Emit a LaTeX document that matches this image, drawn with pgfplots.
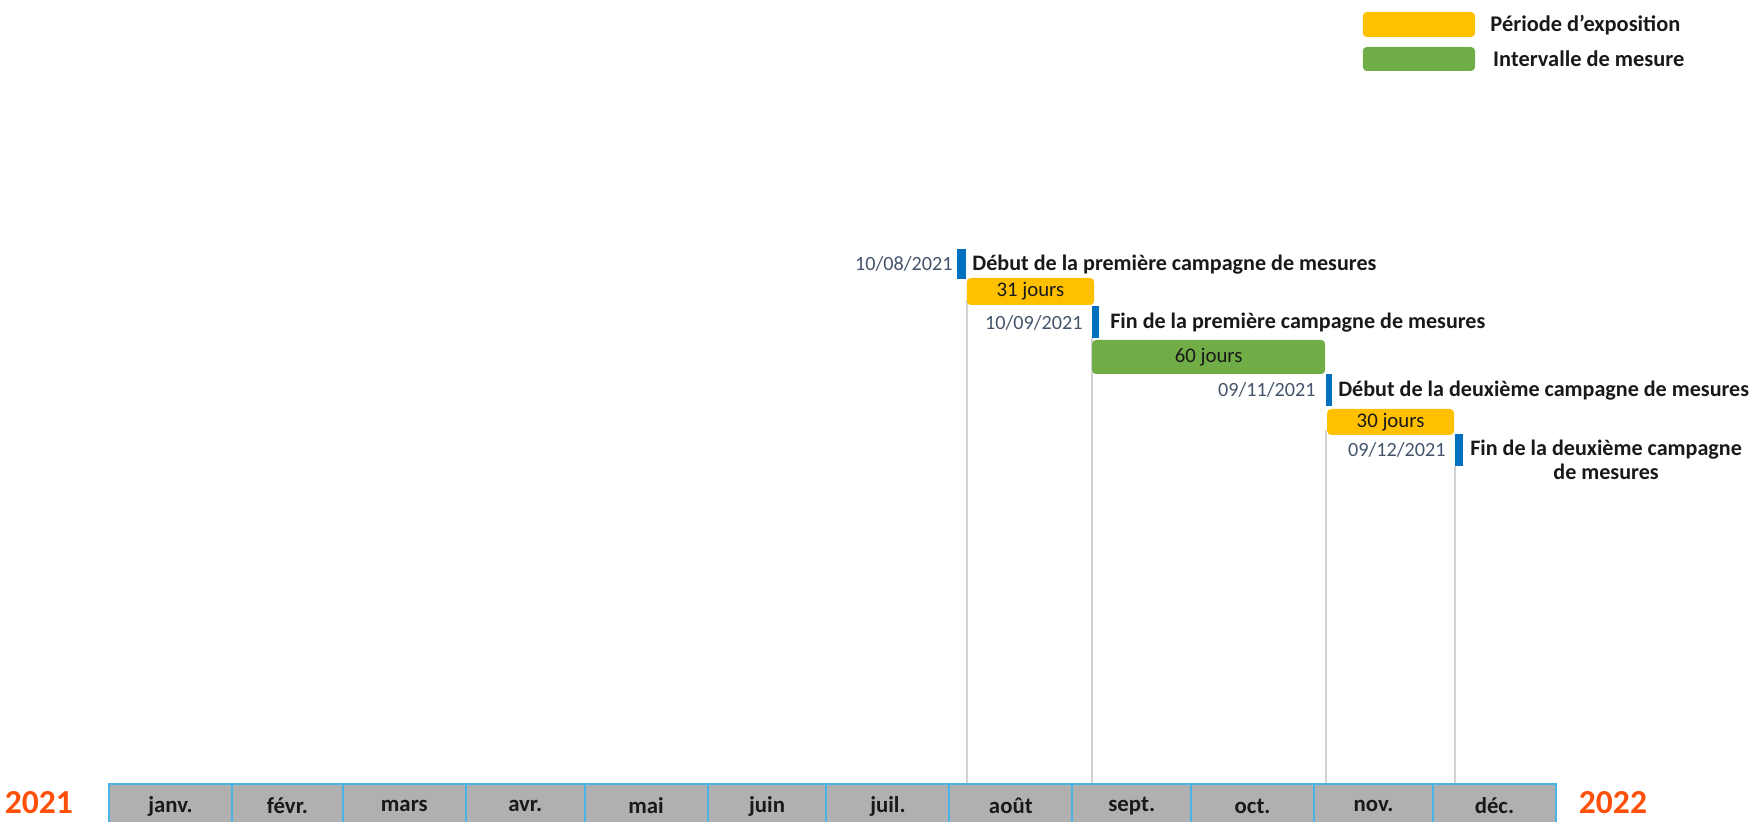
\documentclass[border=0pt]{standalone}
\usepackage{pgfplots}
\pgfplotsset{compat=1.18}
\usepackage{fontspec}
\setmainfont{Carlito}
\definecolor{expo}{RGB}{255,192,0}
\definecolor{mesure}{RGB}{112,173,71}
\definecolor{mblue}{RGB}{0,112,192}
\definecolor{datec}{RGB}{68,84,106}
\definecolor{yearc}{RGB}{255,80,10}
\definecolor{monthfill}{RGB}{176,176,176}
\definecolor{monthborder}{RGB}{75,180,230}
\definecolor{vline}{RGB}{210,210,210}
\definecolor{txt}{RGB}{25,25,25}
\newcommand{\lab}{\fontsize{11.05}{12}\selectfont\bfseries\color{txt}}
\newcommand{\leg}{\fontsize{11.2}{12}\selectfont\bfseries\color{txt}}
\newcommand{\dat}{\fontsize{10.1}{12}\selectfont\color{datec}}
\newcommand{\bart}{\fontsize{10.4}{12}\selectfont\color{txt}}
\newcommand{\mon}{\fontsize{11.4}{12}\selectfont\bfseries\color{txt}}
\begin{document}
\begin{tikzpicture}
\begin{axis}[name=ax,
  width=877.5pt, height=411pt, scale only axis,
  xmin=-27.497, xmax=415.24, ymin=0, ymax=822, y dir=reverse,
  hide axis, clip=false]
% vertical guide lines
\addplot[vline, line width=0.8pt] coordinates {(216.4,300) (216.4,784)};
\addplot[vline, line width=0.8pt] coordinates {(248.0,338) (248.0,784)};
\addplot[vline, line width=0.8pt] coordinates {(307.0,430) (307.0,784)};
\addplot[vline, line width=0.8pt] coordinates {(339.6,466) (339.6,784)};
% event markers
\addplot[fill=mblue, draw=none] coordinates {(213.9,249) (216.2,249) (216.2,279) (213.9,279)} -- cycle;
\addplot[fill=mblue, draw=none] coordinates {(248.0,306) (249.7,306) (249.7,338) (248.0,338)} -- cycle;
\addplot[fill=mblue, draw=none] coordinates {(307.0,374) (308.5,374) (308.5,406) (307.0,406)} -- cycle;
\addplot[fill=mblue, draw=none] coordinates {(339.6,434) (341.6,434) (341.6,466) (339.6,466)} -- cycle;
% periods
\addplot[fill=expo, draw=none, rounded corners=2pt] coordinates {(216.4,278) (248.5,278) (248.5,305) (216.4,305)} -- cycle;
\addplot[fill=mesure, draw=none, rounded corners=2pt] coordinates {(248.0,340) (306.8,340) (306.8,374) (248.0,374)} -- cycle;
\addplot[fill=expo, draw=none, rounded corners=2pt] coordinates {(307.3,409) (339.3,409) (339.3,435) (307.3,435)} -- cycle;
% legend
\addplot[fill=expo, draw=none, rounded corners=2pt] coordinates {(316.3,12) (344.6,12) (344.6,37) (316.3,37)} -- cycle;
\addplot[fill=mesure, draw=none, rounded corners=2pt] coordinates {(316.3,47) (344.6,47) (344.6,71) (316.3,71)} -- cycle;
% months
\addplot[fill=monthfill, draw=monthborder, line width=1pt] coordinates {(0,784) (31,784) (31,830) (0,830)} -- cycle;
\addplot[fill=monthfill, draw=monthborder, line width=1pt] coordinates {(31,784) (59,784) (59,830) (31,830)} -- cycle;
\addplot[fill=monthfill, draw=monthborder, line width=1pt] coordinates {(59,784) (90,784) (90,830) (59,830)} -- cycle;
\addplot[fill=monthfill, draw=monthborder, line width=1pt] coordinates {(90,784) (120,784) (120,830) (90,830)} -- cycle;
\addplot[fill=monthfill, draw=monthborder, line width=1pt] coordinates {(120,784) (151,784) (151,830) (120,830)} -- cycle;
\addplot[fill=monthfill, draw=monthborder, line width=1pt] coordinates {(151,784) (181,784) (181,830) (151,830)} -- cycle;
\addplot[fill=monthfill, draw=monthborder, line width=1pt] coordinates {(181,784) (212,784) (212,830) (181,830)} -- cycle;
\addplot[fill=monthfill, draw=monthborder, line width=1pt] coordinates {(212,784) (243,784) (243,830) (212,830)} -- cycle;
\addplot[fill=monthfill, draw=monthborder, line width=1pt] coordinates {(243,784) (273,784) (273,830) (243,830)} -- cycle;
\addplot[fill=monthfill, draw=monthborder, line width=1pt] coordinates {(273,784) (304,784) (304,830) (273,830)} -- cycle;
\addplot[fill=monthfill, draw=monthborder, line width=1pt] coordinates {(304,784) (334,784) (334,830) (304,830)} -- cycle;
\addplot[fill=monthfill, draw=monthborder, line width=1pt] coordinates {(334,784) (365,784) (365,830) (334,830)} -- cycle;
% month labels
\node[inner sep=0] at (axis cs:15.5,806) {\mon janv.};
\node[inner sep=0] at (axis cs:45,806) {\mon févr.};
\node[inner sep=0] at (axis cs:74.5,806) {\mon mars};
\node[inner sep=0] at (axis cs:105,806) {\mon avr.};
\node[inner sep=0] at (axis cs:135.5,806) {\mon mai};
\node[inner sep=0] at (axis cs:166,806) {\mon juin};
\node[inner sep=0] at (axis cs:196.5,806) {\mon juil.};
\node[inner sep=0] at (axis cs:227.5,806) {\mon août};
\node[inner sep=0] at (axis cs:258,806) {\mon sept.};
\node[inner sep=0] at (axis cs:288.5,806) {\mon oct.};
\node[inner sep=0] at (axis cs:319,806) {\mon nov.};
\node[inner sep=0] at (axis cs:349.5,806) {\mon déc.};
% years
\node[inner sep=0] at (axis cs:-17.7,803) {\fontsize{16.8}{18}\selectfont\bfseries\color{yearc}2021};
\node[inner sep=0] at (axis cs:379.4,803) {\fontsize{16.8}{18}\selectfont\bfseries\color{yearc}2022};
% bar texts
\node[inner sep=0] at (axis cs:232.45,291.5) {\bart 31 jours};
\node[inner sep=0] at (axis cs:277.4,357) {\bart 60 jours};
\node[inner sep=0] at (axis cs:323.3,422) {\bart 30 jours};
% dates
\node[inner sep=0, anchor=east] at (axis cs:212.9,264) {\dat 10/08/2021};
\node[inner sep=0, anchor=east] at (axis cs:245.7,323) {\dat 10/09/2021};
\node[inner sep=0, anchor=east] at (axis cs:304.5,390) {\dat 09/11/2021};
\node[inner sep=0, anchor=east] at (axis cs:337.3,450) {\dat 09/12/2021};
% labels
\node[inner sep=0, anchor=west] at (axis cs:217.7,265) {\lab Début de la première campagne de mesures};
\node[inner sep=0, anchor=west] at (axis cs:252.5,323) {\lab Fin de la première campagne de mesures};
\node[inner sep=0, anchor=west] at (axis cs:310.0,391) {\lab Début de la deuxième campagne de mesures};
\node[inner sep=0, anchor=west, align=center, font=\lab] at (axis cs:343.3,460) {Fin de la deuxième campagne\\de mesures};
% legend texts
\node[inner sep=0, anchor=west] at (axis cs:348.4,25) {\leg Période d’exposition};
\node[inner sep=0, anchor=west] at (axis cs:349.1,59) {\leg Intervalle de mesure};
\end{axis}
\pgfresetboundingbox
\path (ax.south west) rectangle (ax.north east);
\end{tikzpicture}
\end{document}
